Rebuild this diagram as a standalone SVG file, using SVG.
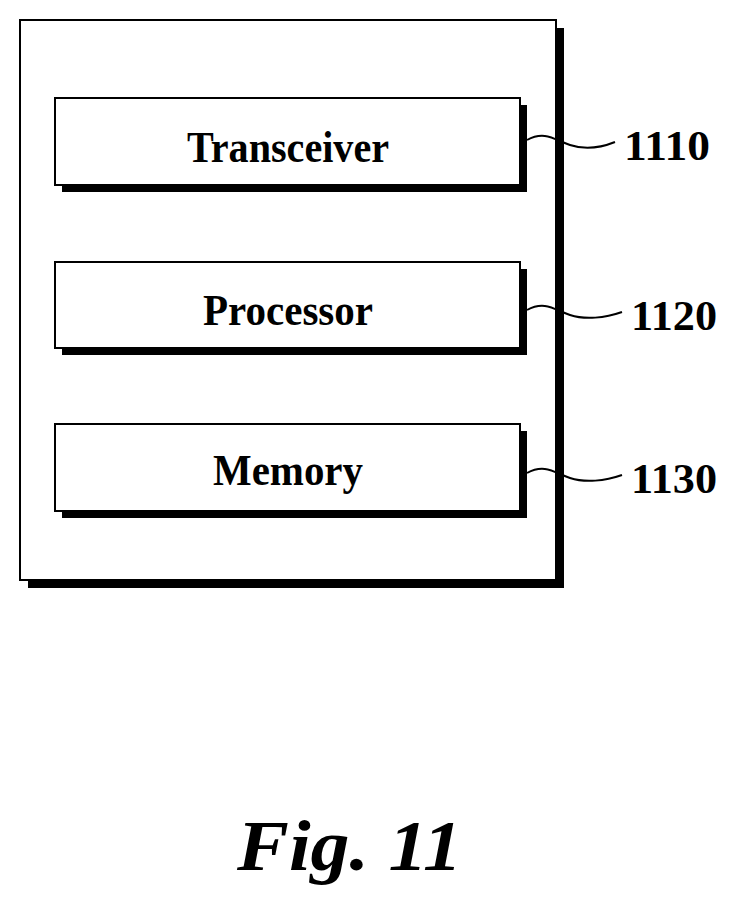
<svg xmlns="http://www.w3.org/2000/svg" width="737" height="907" viewBox="0 0 737 907">
<style>
.box{fill:#fff;stroke:#000;stroke-width:2}
.sh{fill:#000}
.t{font-family:"Liberation Serif",serif;font-weight:bold;font-size:44px;text-anchor:middle}
.n{font-family:"Liberation Serif",serif;font-weight:bold;font-size:42px}
.c{fill:none;stroke:#000;stroke-width:2}
</style>
<rect width="737" height="907" fill="#fff"/>
<g id="outer">
<rect class="sh" x="28" y="28" width="536" height="560"/>
<rect class="box" x="20" y="20" width="536" height="560"/>
</g>
<g id="transceiver">
<rect class="sh" x="62" y="105" width="465" height="87"/>
<rect class="box" x="55" y="98" width="465" height="87"/>
<text class="t" x="288" y="162" textLength="202" lengthAdjust="spacingAndGlyphs">Transceiver</text>
</g>
<g id="processor">
<rect class="sh" x="62" y="269" width="465" height="86"/>
<rect class="box" x="55" y="262" width="465" height="86"/>
<text class="t" x="288" y="325" textLength="170" lengthAdjust="spacingAndGlyphs">Processor</text>
</g>
<g id="memory">
<rect class="sh" x="62" y="431" width="465" height="87"/>
<rect class="box" x="55" y="424" width="465" height="87"/>
<text class="t" x="288" y="485" textLength="150" lengthAdjust="spacingAndGlyphs">Memory</text>
</g>
<g id="connectors">
<path class="c" d="M527,140 C545,130 555,140 570,145 C585,150 600,148 615,142"/>
<path class="c" d="M527,310 C545,300 555,310 570,315 C585,320 605,318 622,312"/>
<path class="c" d="M527,473 C545,463 555,473 570,478 C585,483 605,481 622,475"/>
</g>
<g id="labels">
<text class="n" x="624" y="160" textLength="86" lengthAdjust="spacingAndGlyphs">1110</text>
<text class="n" x="631" y="330" textLength="86" lengthAdjust="spacingAndGlyphs">1120</text>
<text class="n" x="631" y="493" textLength="86" lengthAdjust="spacingAndGlyphs">1130</text>
</g>
<text x="237" y="870" font-family="Liberation Serif,serif" font-weight="bold" font-style="italic" font-size="72" textLength="225" lengthAdjust="spacingAndGlyphs">Fig. 11</text>
</svg>
